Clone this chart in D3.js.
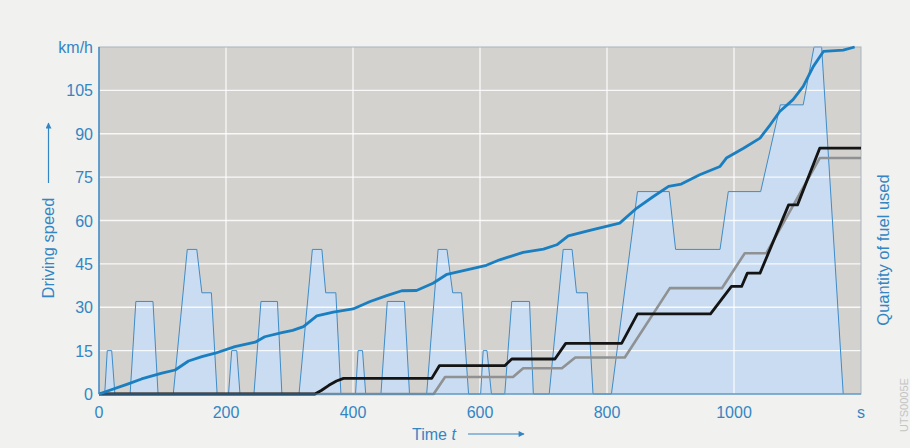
<!DOCTYPE html>
<html>
<head>
<meta charset="utf-8">
<script src="https://cdn.jsdelivr.net/npm/d3@7"></script>
<style>
  body { margin: 0; background: #f1f1ef; }
  svg text { font-family: "Liberation Sans", Arial, sans-serif; fill: #3386c3; }
</style>
</head>
<body>
<div id="chart"></div>
<script>
// driving cycle: speed over time (km/h)
const speedTime = [0, 9, 13, 20, 25, 49, 58, 85, 93, 117, 139, 154, 162, 177, 186,
  204, 209, 217, 222, 244, 255, 281, 288, 315, 336, 351, 357, 373, 381,
  404, 408, 415, 420, 444, 454, 481, 489, 516, 534, 548, 557, 571, 582,
  601, 605, 611, 618, 639, 650, 678, 684, 709, 731, 745, 752, 769, 778,
  807, 848, 898, 908, 978, 991, 1042, 1073, 1109, 1126, 1138, 1172];
const speedValue = [0, 0, 15, 15, 0, 0, 32, 32, 0, 0, 50, 50, 35, 35, 0,
  0, 15, 15, 0, 0, 32, 32, 0, 0, 50, 50, 35, 35, 0,
  0, 15, 15, 0, 0, 32, 32, 0, 0, 50, 50, 35, 35, 0,
  0, 15, 15, 0, 0, 32, 32, 0, 0, 50, 50, 35, 35, 0,
  0, 70, 70, 50, 50, 70, 70, 100, 100, 120, 120, 0];

// blue rising curve
const blueTime = [0, 46, 67, 99, 120, 141, 162, 183, 214, 246, 261, 288, 305, 322, 343, 369, 400,
  427, 453, 477, 500, 526, 548, 579, 610, 631, 668, 700, 721, 739, 773, 820, 847, 873, 897,
  917, 946, 978, 988, 1015, 1041, 1057, 1072, 1093, 1109, 1125, 1141, 1172, 1190];
const blueValue = [0, 3.5, 5.2, 7.2, 8.3, 11.4, 12.9, 14.1, 16.4, 17.9, 19.8, 21.2, 22, 23.3, 27, 28.3, 29.4,
  32, 34, 35.7, 35.8, 38.3, 41.4, 42.9, 44.5, 46.4, 49, 50.1, 51.6, 54.7, 56.6, 59.1, 64.3, 68.3, 71.8,
  72.6, 75.8, 78.7, 81.6, 85, 88.5, 93.1, 97.7, 101.8, 106.4, 113.3, 118.5, 118.9, 120];

// black step line (fuel used)
const blackTime = [0, 340, 350, 362, 374, 385, 524, 536, 639, 650, 718, 735, 823, 848,
  963, 996, 1012, 1021, 1041, 1086, 1100, 1135, 1200];
const blackValue = [0, 0, 1.2, 3, 4.5, 5.4, 5.4, 9.8, 9.8, 12.1, 12.1, 17.5, 17.5, 27.7,
  27.7, 37.2, 37.2, 41.8, 41.8, 65.4, 65.4, 85, 85];

// grey step line (fuel used)
const greyTime = [0, 527, 545, 652, 668, 729, 750, 828, 899, 981, 1017, 1051, 1135, 1200];
const greyValue = [0, 0, 5.9, 5.9, 8.9, 8.9, 12.6, 12.6, 36.6, 36.6, 48.7, 48.7, 81.6, 81.6];

const xTicks = [0, 200, 400, 600, 800, 1000];
const yTicks = [0, 15, 30, 45, 60, 75, 90, 105];

const W = 910, H = 448;
const margin = { top: 47, right: 49, bottom: 54, left: 99 };
const width = W - margin.left - margin.right;
const height = H - margin.top - margin.bottom;

const svg = d3.select("#chart").append("svg")
    .attr("width", W)
    .attr("height", H);

const g = svg.append("g")
    .attr("transform", `translate(${margin.left},${margin.top})`);

const x = d3.scaleLinear().domain([0, 1200]).range([0, width]);
const y = d3.scaleLinear().domain([0, 120]).range([height, 0]);

// plot background
g.append("rect")
    .attr("width", width)
    .attr("height", height)
    .attr("fill", "#d4d2ce");

// speed area
const speed = speedTime.map((t, i) => ({ t: t, v: speedValue[i] }));
g.append("path")
    .datum(speed)
    .attr("fill", "#c9dcf1")
    .attr("d", d3.area().x(d => x(d.t)).y0(y(0)).y1(d => y(d.v)));

// grid
g.selectAll(".hgrid")
    .data(yTicks.filter(d => d > 0))
    .enter().append("line")
    .attr("class", "hgrid")
    .attr("x1", 0).attr("x2", width)
    .attr("y1", d => y(d)).attr("y2", d => y(d))
    .attr("stroke", "#fff")
    .attr("stroke-opacity", 0.85)
    .attr("stroke-width", 1.3);

g.selectAll(".vgrid")
    .data(xTicks.filter(d => d > 0))
    .enter().append("line")
    .attr("class", "vgrid")
    .attr("x1", d => x(d)).attr("x2", d => x(d))
    .attr("y1", 0).attr("y2", height)
    .attr("stroke", "#fff")
    .attr("stroke-opacity", 0.85)
    .attr("stroke-width", 1.3);

// speed outline
g.append("path")
    .datum(speed)
    .attr("fill", "none")
    .attr("stroke", "#3f8cc8")
    .attr("stroke-width", 1)
    .attr("d", d3.line().x(d => x(d.t)).y(d => y(d.v)));

// frame
g.append("rect")
    .attr("width", width)
    .attr("height", height)
    .attr("fill", "none")
    .attr("stroke", "#a9b4c0")
    .attr("stroke-width", 1);

function drawLine(times, values, color, w) {
    g.append("path")
        .datum(times.map((t, i) => [t, values[i]]))
        .attr("fill", "none")
        .attr("stroke", color)
        .attr("stroke-width", w)
        .attr("stroke-linejoin", "round")
        .attr("d", d3.line().x(d => x(d[0])).y(d => y(d[1])));
}

drawLine(greyTime, greyValue, "#8f9193", 2.6);
drawLine(blackTime, blackValue, "#141414", 2.8);
drawLine(blueTime, blueValue, "#1a7fc0", 2.8);

// axes lines
g.append("line")
    .attr("x1", 0).attr("x2", 0).attr("y1", 0).attr("y2", height)
    .attr("stroke", "#3f8cc8").attr("stroke-width", 1.5);
g.append("line")
    .attr("x1", 0).attr("x2", width).attr("y1", height).attr("y2", height)
    .attr("stroke", "#3f8cc8").attr("stroke-width", 1.2);

// y tick labels
g.selectAll(".ylab")
    .data(yTicks)
    .enter().append("text")
    .attr("x", -6)
    .attr("y", d => y(d) + 6)
    .attr("text-anchor", "end")
    .style("font-size", "16px")
    .text(d => d);

g.append("text")
    .attr("x", -6).attr("y", y(120) + 6)
    .attr("text-anchor", "end")
    .style("font-size", "16px")
    .text("km/h");

// x tick labels
g.selectAll(".xlab")
    .data(xTicks)
    .enter().append("text")
    .attr("x", d => x(d))
    .attr("y", height + 24)
    .attr("text-anchor", "middle")
    .style("font-size", "16px")
    .text(d => d);

g.append("text")
    .attr("x", x(1200)).attr("y", height + 24)
    .attr("text-anchor", "middle")
    .style("font-size", "16px")
    .text("s");

// arrow marker
svg.append("defs").append("marker")
    .attr("id", "arr")
    .attr("viewBox", "0 0 10 10")
    .attr("refX", 9).attr("refY", 5)
    .attr("markerWidth", 9).attr("markerHeight", 6)
    .attr("markerUnits", "userSpaceOnUse")
    .attr("orient", "auto")
    .append("path")
    .attr("d", "M0,0L10,5L0,10z")
    .attr("fill", "#3386c3");

// left title
svg.append("text")
    .attr("transform", "translate(54,248) rotate(-90)")
    .attr("text-anchor", "middle")
    .style("font-size", "16.5px")
    .text("Driving speed");
svg.append("line")
    .attr("x1", 48.5).attr("x2", 48.5).attr("y1", 183).attr("y2", 123)
    .attr("stroke", "#3386c3").attr("stroke-width", 1.2)
    .attr("marker-end", "url(#arr)");

// right title
svg.append("text")
    .attr("transform", "translate(889,250) rotate(-90)")
    .attr("text-anchor", "middle")
    .style("font-size", "16.5px")
    .text("Quantity of fuel used");

// bottom title
const tt = svg.append("text")
    .attr("x", 412).attr("y", 440)
    .style("font-size", "16px");
tt.append("tspan").text("Time ");
tt.append("tspan").style("font-style", "italic").text("t");
svg.append("line")
    .attr("x1", 468).attr("x2", 524).attr("y1", 434).attr("y2", 434)
    .attr("stroke", "#3386c3").attr("stroke-width", 1.2)
    .attr("marker-end", "url(#arr)");

// figure code at the edge
svg.append("text")
    .attr("transform", "translate(908,405) rotate(-90)")
    .attr("text-anchor", "middle")
    .style("font-size", "11px")
    .style("fill", "#c4c4c4")
    .text("UTS0005E");
</script>
</body>
</html>
